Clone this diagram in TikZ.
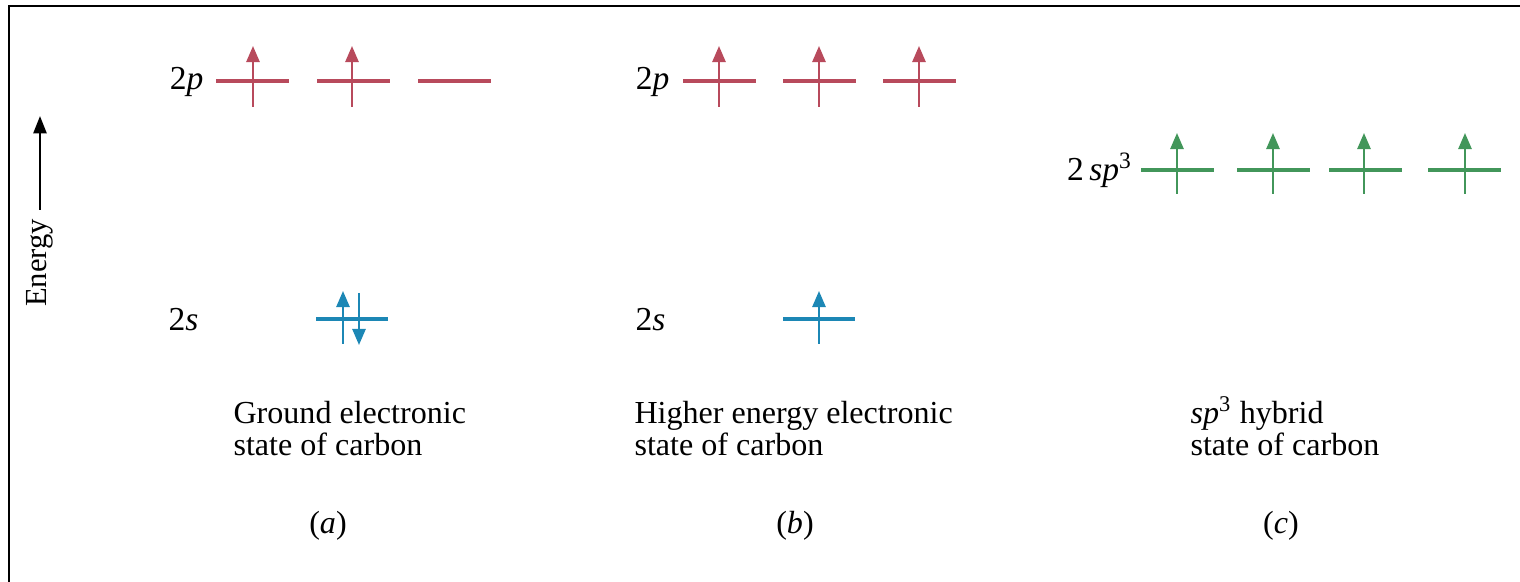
\documentclass[tikz,border=0pt]{standalone}
\usepackage{fontspec}
\setmainfont{Liberation Serif}
\usetikzlibrary{arrows.meta}
\definecolor{plevel}{RGB}{184,74,92}
\definecolor{slevel}{RGB}{28,135,181}
\definecolor{hlevel}{RGB}{66,150,90}
\tikzset{
  orbital/.style={line width=1.2pt},
  spin/.style={line width=0.8pt, -{Triangle[length=5.5pt,width=4.5pt]}},
  sublabel/.style={anchor=base east, inner sep=0pt, font=\fontsize{11.5}{13}\selectfont},
  caption/.style={anchor=base west, align=left, inner sep=0pt, font=\fontsize{11}{11.3}\selectfont},
  tag/.style={anchor=base, inner sep=0pt, font=\fontsize{11}{13}\selectfont}
}
\begin{document}
\begin{tikzpicture}[x=0.343pt,y=-0.343pt]
\useasboundingbox (0,0) rectangle (1520,582);
\draw[line width=0.7pt] (9,582) -- (9,6) -- (1520,6);

% energy axis
\node[rotate=90, inner sep=0pt, font=\fontsize{10.5}{12}\selectfont] (energy) at (40,263) {Energy};
\coordinate (etop) at (40,116);
\draw[line width=0.8pt, -{Triangle[length=6pt,width=4.5pt]}] ([yshift=3pt]energy.east) -- (etop);

% (a) ground state
\node[sublabel] (pa) at (204,90) {2\textit{p}};
\foreach \x in {216,317,418}
  \draw[orbital,plevel] (\x,81) -- ++(73,0);
\foreach \x in {253,352}
  \draw[spin,plevel] (\x,107) -- (\x,46);
\node[sublabel] (sa) at (199,331) {2\textit{s}};
\draw[orbital,slevel] (316,319) -- (388,319);
\draw[spin,slevel] (343,344) -- (343,291);
\draw[spin,slevel] (359,293) -- (359,345);
\node[caption] (capa) at (233,456) {Ground electronic\\state of carbon};
\node[tag] (taga) at (328,534) {(\textit{a})};

% (b) excited state
\node[sublabel] (pb) at (670,90) {2\textit{p}};
\foreach \x in {683,783,883}
  \draw[orbital,plevel] (\x,81) -- ++(73,0);
\foreach \x in {719,819,919}
  \draw[spin,plevel] (\x,107) -- (\x,46);
\node[sublabel] (sb) at (666,331) {2\textit{s}};
\draw[orbital,slevel] (783,319) -- (855,319);
\draw[spin,slevel] (819,344) -- (819,291);
\node[caption] (capb) at (634,456) {Higher energy electronic\\state of carbon};
\node[tag] (tagb) at (795,534) {(\textit{b})};

% (c) hybrid state
\node[sublabel] (hc) at (1133,181) {2\,\textit{sp}\textsuperscript{3}};
\foreach \x in {1141,1237,1329,1428}
  \draw[orbital,hlevel] (\x,170) -- ++(73,0);
\foreach \x in {1177,1273,1364,1465}
  \draw[spin,hlevel] (\x,194) -- (\x,133);
\node[caption] (capc) at (1190,456) {\textit{sp}\textsuperscript{3} hybrid\\state of carbon};
\node[tag] (tagc) at (1281,534) {(\textit{c})};
\end{tikzpicture}
\end{document}
